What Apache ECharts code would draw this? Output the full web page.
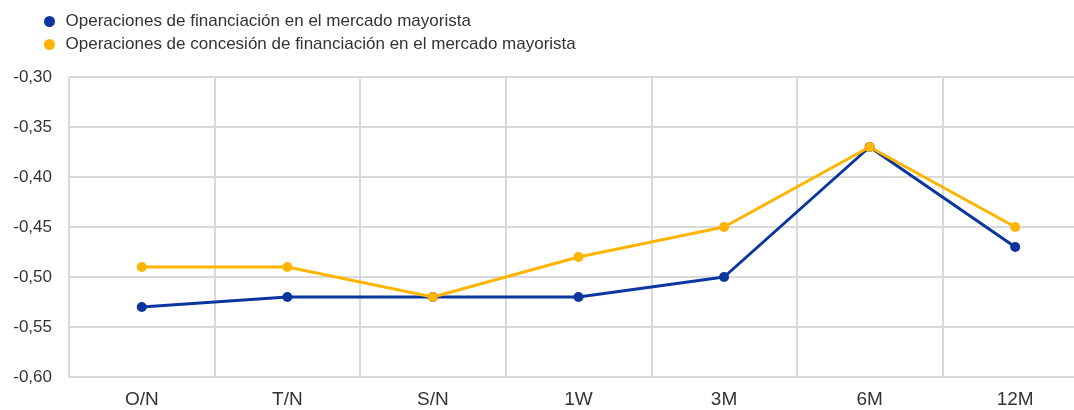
<!DOCTYPE html>
<html>
<head>
<meta charset="utf-8">
<script src="https://cdn.jsdelivr.net/npm/echarts@6/dist/echarts.min.js"></script>
<style>
  html, body { margin: 0; padding: 0; background: #fff; overflow: hidden; }
  #chart { width: 1088px; height: 410px; }
</style>
</head>
<body>
<div id="chart"></div>
<script>
// plazos
var categories = ['O/N', 'T/N', 'S/N', '1W', '3M', '6M', '12M'];
var financiacion = [-0.53, -0.52, -0.52, -0.52, -0.50, -0.37, -0.47];
var concesion = [-0.49, -0.49, -0.52, -0.48, -0.45, -0.37, -0.45];
var seriesNames = [
  'Operaciones de financiación en el mercado mayorista',
  'Operaciones de concesión de financiación en el mercado mayorista'
];

// the plot runs past the right edge of the picture, so the div is wider than the window
var myChart = echarts.init(document.getElementById('chart'));

var option = {
  color: ['#0b36a0', '#ffb400'],
  textStyle: { fontFamily: 'Liberation Sans, Arial, sans-serif' },
  legend: {
    orient: 'vertical',
    left: 39,
    top: 8,
    itemGap: 6,
    itemWidth: 22,
    itemHeight: 11,
    icon: 'circle',
    textStyle: { fontSize: 17, color: '#333' },
    data: seriesNames
  },
  grid: {
    left: 69,
    right: 0,
    top: 77,
    bottom: 33
  },
  xAxis: {
    type: 'category',
    data: categories,
    boundaryGap: true,
    axisLine: { show: false },
    axisTick: { show: false },
    axisLabel: { fontSize: 19, color: '#333', margin: 13 },
    splitLine: { show: true, lineStyle: { color: '#d9d9d9', width: 2 } }
  },
  yAxis: {
    type: 'value',
    min: -0.6,
    max: -0.3,
    interval: 0.05,
    axisLine: { show: false },
    axisTick: { show: false },
    axisLabel: {
      fontSize: 17,
      color: '#333',
      margin: 17,
      formatter: function (v) { return v.toFixed(2).replace('.', ','); }
    },
    splitLine: { lineStyle: { color: '#d9d9d9', width: 2 } }
  },
  series: [
    {
      name: seriesNames[0],
      type: 'line',
      data: financiacion,
      symbol: 'circle',
      symbolSize: 10,
      lineStyle: { width: 3 }
    },
    {
      name: seriesNames[1],
      type: 'line',
      data: concesion,
      symbol: 'circle',
      symbolSize: 10,
      lineStyle: { width: 3 }
    }
  ]
};

option && myChart.setOption(option);
</script>
</body>
</html>
